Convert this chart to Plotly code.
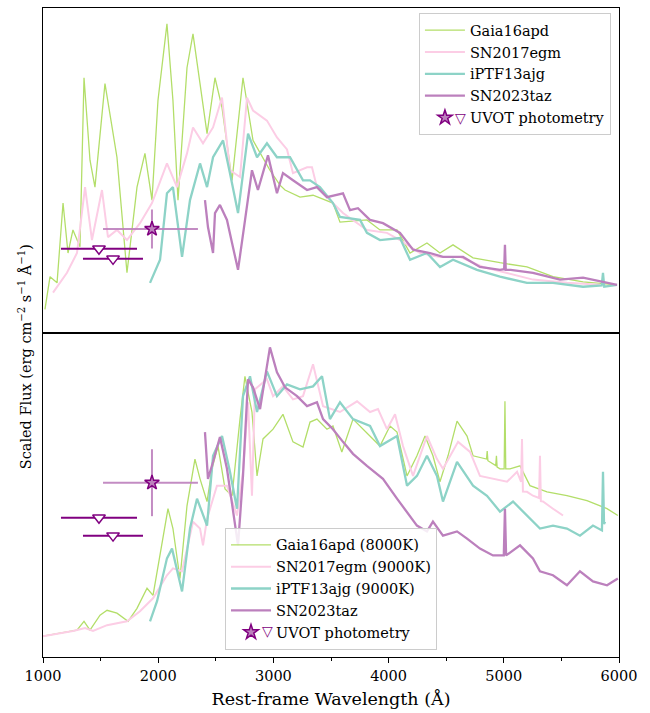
import plotly.graph_objects as go
from plotly.subplots import make_subplots

# ---------------- data (rest-frame wavelength in Angstrom, scaled flux in arbitrary units) ----------------
# Top panel: observed spectra
gaia_top_w = [1017, 1061, 1122, 1174, 1217, 1260, 1321, 1356, 1408, 1451, 1538, 1642, 1729, 1816, 1885, 1946,
              1998, 2076, 2128, 2172, 2250, 2302, 2363, 2424, 2493, 2554, 2641, 2736, 2823, 2970, 3057, 3101,
              3231, 3344, 3517, 3578, 3812, 3925, 4073, 4186, 4333, 4446, 4559, 4733, 4967, 5201, 5427, 5688, 5983]
gaia_top_f = [7.1, 17.2, 15.3, 39.9, 24.5, 31.6, 26.4, 78.5, 53.1, 44.8, 76.7, 54.0, 18.4, 44.8, 55.2, 40.8,
              71.5, 95.1, 71.5, 40.8, 81.6, 92.0, 76.7, 61.3, 78.5, 69.3, 46.9, 78.5, 59.2, 50.0, 45.4, 43.9,
              41.7, 42.3, 39.9, 34.0, 34.7, 31.6, 31.6, 24.5, 27.6, 24.5, 27.0, 23.0, 21.5, 20.2, 17.2, 15.6, 14.7]

egm_top_w = [1087, 1208, 1295, 1365, 1425, 1512, 1564, 1642, 1729, 1842, 1946, 2076, 2163, 2250, 2302, 2389,
             2476, 2554, 2623, 2710, 2771, 2823, 2944, 3031, 3118, 3170, 3292, 3335, 3378, 3517, 3604, 3812,
             3986, 4099, 4272, 4446, 4620, 4819, 5028, 5253, 5548, 5835]
egm_top_f = [12.3, 18.4, 24.5, 44.8, 28.5, 43.9, 29.4, 31.6, 28.5, 33.7, 39.9, 52.1, 44.8, 55.2, 63.2, 58.3,
             63.2, 72.4, 50.0, 47.9, 72.4, 68.4, 65.3, 60.1, 56.4, 49.1, 50.9, 50.9, 44.8, 39.9, 36.8, 31.6,
             30.7, 28.5, 24.5, 23.3, 23.3, 20.2, 18.4, 16.3, 15.3, 14.7]

ajg_top_w = [1929, 2016, 2076, 2128, 2207, 2276, 2363, 2424, 2476, 2563, 2623, 2693, 2780, 2858, 2944, 3031,
             3144, 3257, 3318, 3404, 3517, 3578, 3752, 3812, 3925, 4099, 4186, 4333, 4446, 4559, 4767, 4967,
             5201, 5427, 5688, 5850, 5861, 5872, 5983]
ajg_top_f = [15.3, 22.4, 42.9, 44.8, 23.3, 40.8, 52.1, 44.8, 54.0, 59.2, 49.1, 36.8, 61.3, 54.0, 58.3, 54.0,
             54.0, 46.9, 46.9, 44.8, 39.9, 35.6, 34.7, 30.7, 28.5, 29.1, 22.4, 24.5, 20.2, 22.4, 19.3, 17.2,
             15.3, 15.3, 14.1, 14.5, 18.4, 14.1, 14.7]

taz_top_w = [2406, 2432, 2476, 2493, 2536, 2597, 2641, 2693, 2754, 2814, 2866, 2953, 3031, 3083, 3170, 3292,
             3378, 3465, 3604, 3665, 3734, 3838, 3951, 4099, 4212, 4359, 4472, 4646, 4793, 4967, 5003, 5010,
             5017, 5060, 5253, 5488, 5688, 5983]
taz_top_f = [40.8, 32.5, 24.5, 36.8, 39.3, 34.7, 27.6, 19.3, 34.7, 50.0, 43.9, 54.6, 42.9, 49.1, 46.9, 43.9,
             44.8, 41.7, 42.9, 37.7, 38.3, 34.7, 33.7, 30.7, 25.5, 24.5, 23.3, 23.3, 20.2, 19.3, 19.5, 27.0,
             19.3, 19.3, 18.4, 16.3, 16.9, 14.7]

# Bottom panel: spectra compared with blackbody-scaled templates
gaia_bot_w = [1000, 1147, 1295, 1356, 1408, 1495, 1556, 1642, 1738, 1816, 1903, 1955, 2016, 2085, 2128, 2189,
              2250, 2319, 2363, 2424, 2467, 2519, 2580, 2641, 2710, 2753, 2814, 2858, 2910, 2997, 3083, 3170,
              3257, 3318, 3378, 3465, 3517, 3594, 3691, 3778, 3925, 4012, 4073, 4160, 4246, 4316, 4385, 4446,
              4516, 4594, 4681, 4733, 4850, 4856, 4862, 4930, 4936, 4942, 4967, 5003, 5010, 5017, 5054, 5141,
              5227, 5375, 5548, 5722, 5896, 5990]
gaia_bot_f = [6.4, 7.4, 8.3, 11.0, 8.3, 12.9, 14.4, 13.5, 11.0, 15.0, 21.2, 19.0, 31.3, 45.7, 39.6, 24.2,
              46.6, 61.0, 54.9, 47.9, 58.0, 65.0, 51.8, 49.7, 73.3, 86.5, 75.5, 55.8, 67.2, 70.2, 74.8, 66.3,
              64.7, 72.4, 73.3, 70.2, 71.2, 63.2, 73.3, 70.2, 65.0, 71.2, 69.3, 55.8, 62.0, 68.1, 62.0, 54.0,
              62.0, 72.7, 68.1, 62.0, 61.0, 63.5, 60.5, 59.0, 62.0, 58.5, 58.0, 58.0, 78.8, 58.0, 58.0, 58.9,
              52.8, 50.9, 49.7, 48.2, 45.7, 43.6]

egm_bot_w = [1000, 1260, 1365, 1434, 1556, 1729, 1842, 1955, 2076, 2128, 2207, 2302, 2363, 2389, 2424, 2510,
             2597, 2684, 2736, 2780, 2814, 2840, 2944, 2997, 3083, 3170, 3257, 3344, 3431, 3578, 3726, 3839,
             3908, 3986, 4056, 4125, 4212, 4333, 4420, 4472, 4603, 4707, 4793, 4906, 5028, 5115, 5150, 5158,
             5166, 5201, 5253, 5306, 5314, 5322, 5340, 5427, 5514]
egm_bot_f = [6.4, 8.0, 8.9, 8.0, 9.8, 11.0, 14.1, 18.1, 25.2, 27.3, 26.4, 41.7, 39.6, 34.4, 42.6, 52.8,
             52.8, 43.6, 57.1, 78.5, 49.7, 82.5, 85.6, 80.4, 83.4, 79.4, 80.4, 90.2, 77.3, 75.5, 78.8, 75.5,
             76.4, 70.2, 74.8, 65.0, 55.8, 68.1, 61.0, 58.0, 66.3, 63.2, 55.8, 54.9, 54.0, 57.1, 54.0, 67.2,
             51.0, 50.9, 49.7, 49.0, 62.0, 48.0, 47.9, 45.7, 43.6]

ajg_bot_w = [1929, 1990, 2076, 2120, 2207, 2276, 2337, 2424, 2476, 2554, 2623, 2684, 2736, 2797, 2858, 2944,
             3031, 3118, 3231, 3344, 3422, 3491, 3578, 3691, 3839, 3925, 4073, 4160, 4246, 4333, 4420, 4472,
             4594, 4733, 4854, 4967, 5080, 5201, 5314, 5427, 5548, 5661, 5774, 5852, 5861, 5870, 5879]
ajg_bot_f = [11.0, 17.2, 30.4, 33.4, 20.2, 39.6, 48.8, 40.5, 62.0, 68.1, 57.1, 45.7, 80.4, 86.5, 75.5, 88.0,
             80.4, 84.0, 82.5, 83.4, 86.5, 73.3, 78.5, 73.3, 71.2, 65.0, 68.1, 52.8, 55.8, 62.0, 55.8, 47.9,
             60.1, 52.8, 49.7, 44.8, 47.9, 43.6, 39.6, 40.5, 39.6, 37.4, 40.5, 39.0, 57.1, 41.0, 41.7]

taz_bot_w = [2406, 2432, 2476, 2536, 2597, 2649, 2693, 2736, 2780, 2823, 2884, 2970, 3031, 3101, 3205, 3292,
             3378, 3431, 3517, 3604, 3691, 3812, 3951, 4073, 4186, 4246, 4333, 4385, 4472, 4594, 4681, 4793,
             4906, 5000, 5010, 5020, 5141, 5253, 5314, 5427, 5548, 5661, 5774, 5896, 5990]
taz_bot_f = [69.3, 54.9, 60.1, 67.8, 58.0, 45.7, 34.4, 55.8, 85.6, 83.1, 76.4, 95.4, 87.7, 83.1, 80.4, 77.3,
             78.5, 73.3, 70.2, 66.3, 62.6, 58.9, 54.9, 48.8, 43.6, 40.5, 38.7, 41.7, 37.4, 38.7, 36.5, 33.4,
             31.3, 31.3, 45.7, 31.3, 34.4, 30.4, 26.4, 25.2, 22.1, 26.4, 23.3, 22.1, 24.2]

# UVOT photometry: detection (star) and upper limits (triangles)
uvot_det_w = [1946]
uvot_det_wlo = [425]
uvot_det_whi = [399]
uvot_det_top = [31.9]
uvot_det_bot = [53.7]
uvot_det_ferr_top = [6.0]
uvot_det_ferr_bot = [10.3]

uvot_lim_w = [1486, 1608]
uvot_lim_wlo = [330, 261]
uvot_lim_whi = [330, 260]
uvot_lim_top = [25.8, 22.7]
uvot_lim_bot = [42.9, 37.4]

names_top = ["Gaia16apd", "SN2017egm", "iPTF13ajg", "SN2023taz"]
names_bot = ["Gaia16apd (8000K)", "SN2017egm (9000K)", "iPTF13ajg (9000K)", "SN2023taz"]
uvot_label = "UVOT photometry"

# ---------------- styling ----------------
colors = ["#b3de69", "#fccde5", "#8dd3c7", "#bc80bd"]
widths = [1.3, 2.0, 2.3, 2.3]
dark_purple = "#800080"
FONT = "DejaVu Serif"

fig = make_subplots(rows=2, cols=1, shared_xaxes=True, vertical_spacing=0)

panels = [
    (1, "legend", names_top,
     [(gaia_top_w, gaia_top_f), (egm_top_w, egm_top_f), (ajg_top_w, ajg_top_f), (taz_top_w, taz_top_f)],
     uvot_det_top, uvot_det_ferr_top, uvot_lim_top),
    (2, "legend2", names_bot,
     [(gaia_bot_w, gaia_bot_f), (egm_bot_w, egm_bot_f), (ajg_bot_w, ajg_bot_f), (taz_bot_w, taz_bot_f)],
     uvot_det_bot, uvot_det_ferr_bot, uvot_lim_bot),
]

for row, leg, names, series, det_f, det_ferr, lim_f in panels:
    for (w, f), name, c, lw in zip(series, names, colors, widths):
        fig.add_trace(go.Scatter(x=w, y=f, mode="lines", name=name, legend=leg,
                                 line=dict(color=c, width=lw)), row=row, col=1)
    # upper limits
    fig.add_trace(go.Scatter(
        x=uvot_lim_w, y=lim_f, mode="markers", showlegend=False, legend=leg,
        marker=dict(symbol="triangle-down", size=11, color="white",
                    line=dict(color=dark_purple, width=1.5)),
        error_x=dict(type="data", array=uvot_lim_whi, arrayminus=uvot_lim_wlo,
                     color=dark_purple, thickness=2, width=0)), row=row, col=1)
    # detection
    fig.add_trace(go.Scatter(
        x=uvot_det_w, y=det_f, mode="markers", legend=leg, name=uvot_label,
        marker=dict(symbol="star", size=11, color="#bc80bd",
                    line=dict(color=dark_purple, width=1.5)),
        error_x=dict(type="data", array=uvot_det_whi, arrayminus=uvot_det_wlo,
                     color="rgba(188,128,189,0.9)", thickness=2, width=0),
        error_y=dict(type="data", array=det_ferr, color="rgba(188,128,189,0.9)",
                     thickness=2, width=0)), row=row, col=1)

axis_common = dict(showline=True, linecolor="black", linewidth=1.2, mirror=True,
                   showgrid=False, zeroline=False)
fig.update_xaxes(range=[1000, 6000], **axis_common)
fig.update_yaxes(range=[0, 100], showticklabels=False, ticks="", **axis_common)
fig.update_xaxes(row=1, col=1, ticks="", showticklabels=False)
fig.update_xaxes(row=2, col=1, ticks="outside", ticklen=5, tickwidth=1.2, tickcolor="black",
                 tickvals=[1000, 2000, 3000, 4000, 5000, 6000],
                 minor=dict(ticks="outside", ticklen=3, tickcolor="black", dtick=500, tick0=1000),
                 tickfont=dict(family=FONT, size=14.5, color="black"),
                 title=dict(text="Rest-frame Wavelength (Å)", font=dict(family=FONT, size=17.5, color="black"),
                            standoff=10))

legend_common = dict(bgcolor="rgba(255,255,255,0.85)", bordercolor="#cccccc", borderwidth=1,
                     font=dict(family=FONT, size=14.5, color="black"), itemwidth=40, tracegroupgap=0)

# open-triangle glyph shown beside the star in each legend's UVOT entry
tri_marks = [dict(text="\u25BD", xref="paper", yref="paper", x=0.7255, y=0.830, showarrow=False,
                  xanchor="center", yanchor="middle", font=dict(family="DejaVu Sans", size=14, color=dark_purple)),
             dict(text="\u25BD", xref="paper", yref="paper", x=0.3895, y=0.040, showarrow=False,
                  xanchor="center", yanchor="middle", font=dict(family="DejaVu Sans", size=14, color=dark_purple))]

fig.update_layout(
    width=650, height=713,
    margin=dict(l=43, r=31, t=7, b=54),
    paper_bgcolor="white", plot_bgcolor="white",
    font=dict(family=FONT, color="black"),
    legend=dict(x=0.986, xanchor="right", y=0.992, yanchor="top", **legend_common),
    legend2=dict(x=0.5, xanchor="center", y=0.011, yanchor="bottom", **legend_common),
    annotations=[dict(text="Scaled Flux (erg cm<sup>\u22122</sup> s<sup>\u22121</sup> Å<sup>\u22121</sup>)",
                      xref="paper", yref="paper", x=-0.031, y=0.462, textangle=-90,
                      showarrow=False, xanchor="center", yanchor="middle",
                      font=dict(family=FONT, size=14.5, color="black"))] + tri_marks,
)

fig.write_html("out.html")
